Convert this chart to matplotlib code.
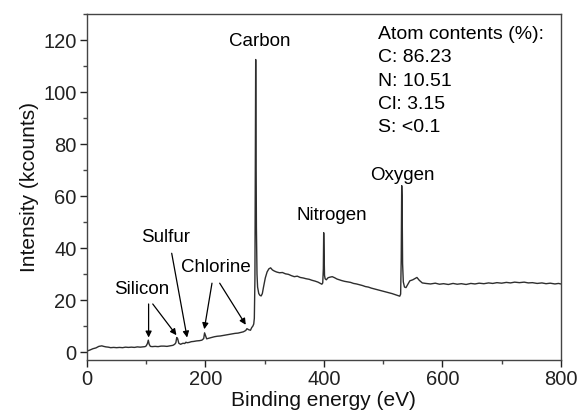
import matplotlib
matplotlib.use("Agg")
import matplotlib.pyplot as plt
from matplotlib.ticker import MultipleLocator

plt.rcParams['font.family'] = ['Liberation Sans', 'DejaVu Sans']

# Spectrum, split into regions (energy in eV, intensity in kcounts)
energy_low = [0, 5, 10, 15, 20, 25, 28, 32, 36, 40, 45, 50, 55, 60, 65, 70, 75, 80, 85, 90,
              95, 98, 100]
intensity_low = [0.4, 0.8, 1.3, 1.6, 2.2, 2.4, 2.2, 2.0, 1.9, 1.7, 1.8, 1.7, 1.8, 1.7, 1.9,
                 1.8, 1.9, 1.8, 2.0, 1.9, 2.0, 2.1, 2.4]

energy_si_cl = [102, 103.5, 105, 107, 110, 115, 120, 125, 130, 135, 140, 145, 148, 150, 151.5,
                153, 155, 158, 162, 165, 167, 169, 172, 176, 180, 185, 190, 194, 197, 198.5,
                200, 202, 205, 210, 215, 220, 225, 230, 235, 240, 245, 250, 255, 260, 264,
                268, 270, 273, 276, 278, 280]
intensity_si_cl = [3.3, 4.6, 3.0, 2.2, 2.1, 2.2, 2.1, 2.3, 2.3, 2.2, 2.4, 2.6, 3.0, 3.6, 5.6,
                   5.2, 3.4, 3.0, 3.4, 3.3, 3.8, 3.6, 3.7, 4.0, 4.1, 4.3, 4.4, 4.6, 5.2, 7.4,
                   6.4, 5.1, 5.3, 5.6, 5.9, 6.1, 6.2, 6.4, 6.6, 6.8, 7.0, 7.2, 7.3, 7.6, 7.8,
                   8.3, 9.0, 8.6, 8.4, 9.4, 10.0]

energy_carbon = [281.5, 282.5, 283.5, 284.2, 284.8, 285.4, 286, 287, 288, 290, 292, 294, 296,
                 298, 301, 304, 307, 310, 313, 316, 320, 325, 330, 335, 340, 345, 350, 355,
                 360, 365, 370, 375, 380, 385, 390, 394, 396.5]
intensity_carbon = [10.8, 13.0, 28.0, 80.0, 112.5, 82.0, 48.0, 30.0, 25.0, 22.5, 21.8, 21.6,
                    22.5, 25.0, 28.5, 30.8, 32.0, 32.4, 31.6, 31.2, 30.8, 30.5, 30.6, 30.1,
                    29.9, 29.4, 29.0, 29.2, 28.7, 28.5, 28.2, 28.0, 27.6, 27.3, 26.9, 26.4,
                    26.1]

energy_nitrogen = [398, 399, 399.6, 400.4, 401, 402, 404, 407, 410, 414, 418, 422, 426, 430,
                   435, 440, 445, 450, 455, 460, 465, 470, 475, 480, 485, 490, 495, 500, 505,
                   510, 515, 520, 525, 528]
intensity_nitrogen = [26.6, 32.0, 45.9, 36.0, 29.5, 28.2, 27.8, 28.6, 28.8, 29.0, 28.6, 28.1,
                      27.8, 27.5, 27.2, 27.0, 26.8, 26.4, 26.2, 25.9, 25.6, 25.2, 25.0, 24.6,
                      24.3, 24.0, 23.7, 23.4, 23.1, 22.8, 22.5, 22.1, 21.7, 21.5]

energy_oxygen = [529.5, 530.5, 531.3, 532, 532.8, 534, 536, 538.5, 541, 545, 550, 554, 557,
                 561, 566, 572, 580, 588, 595, 602, 610, 618, 625, 632, 640, 648, 655, 662,
                 670, 678, 685, 692, 700, 708, 715, 722, 730, 738, 745, 752, 760, 768, 775,
                 782, 790, 796, 800]
intensity_oxygen = [22.3, 36.0, 64.0, 58.0, 34.0, 27.0, 25.0, 24.8, 25.8, 27.4, 27.8, 28.3,
                    28.7, 27.6, 26.6, 26.4, 26.2, 26.5, 26.1, 26.3, 26.0, 26.4, 26.1, 26.3,
                    26.0, 26.4, 26.2, 26.5, 26.3, 26.6, 26.4, 26.7, 26.5, 26.8, 26.6, 26.9,
                    26.7, 26.9, 26.6, 26.7, 26.4, 26.6, 26.3, 26.5, 26.2, 26.4, 26.2]

x_ticks = [0, 200, 400, 600, 800]
y_ticks = [0, 20, 40, 60, 80, 100, 120]
contents_lines = ["Atom contents (%):", "C: 86.23", "N: 10.51", "Cl: 3.15", "S: <0.1"]

energy = energy_low + energy_si_cl + energy_carbon + energy_nitrogen + energy_oxygen
intensity = (intensity_low + intensity_si_cl + intensity_carbon + intensity_nitrogen
             + intensity_oxygen)

fig = plt.figure(figsize=(5.8, 4.18), dpi=100)
ax = fig.add_axes([0.15, 0.139, 0.817, 0.8275])
ax.plot(energy, intensity, color='#2e2e2e', lw=1.0)

ax.set_xlim(0, 800)
ax.set_ylim(-3, 130)
ax.set_xticks(x_ticks)
ax.set_yticks(y_ticks)
ax.xaxis.set_minor_locator(MultipleLocator(100))
ax.yaxis.set_minor_locator(MultipleLocator(10))
ax.tick_params(which='major', direction='out', length=5, width=1, labelsize=14.5,
               colors='#222222', top=False, right=False, pad=2.5)
ax.tick_params(which='minor', direction='out', length=3, width=1, top=False, right=False,
               colors='#444444')
for s in ax.spines.values():
    s.set_color('#444444')
    s.set_linewidth(1.0)

ax.set_xlabel("Binding energy (eV)", fontsize=15, color='#111111', labelpad=1)
ax.set_ylabel("Intensity (kcounts)", fontsize=15, color='#111111', labelpad=3)

fs = 13.5
ax.text(292, 119.5, "Carbon", ha='center', va='center', fontsize=fs)
ax.text(413, 52.4, "Nitrogen", ha='center', va='center', fontsize=fs)
ax.text(533, 68, "Oxygen", ha='center', va='center', fontsize=fs)
ax.text(93, 24, "Silicon", ha='center', va='center', fontsize=fs)
ax.text(133, 44, "Sulfur", ha='center', va='center', fontsize=fs)
ax.text(218, 32.5, "Chlorine", ha='center', va='center', fontsize=fs)

arrow = dict(arrowstyle='-|>', color='black', lw=0.9, mutation_scale=9,
             shrinkA=0, shrinkB=0)
ax.annotate("", xy=(104, 5.6), xytext=(104, 18.5), arrowprops=arrow)
ax.annotate("", xy=(151, 6.5), xytext=(111, 18.5), arrowprops=arrow)
ax.annotate("", xy=(169, 5.6), xytext=(143, 38), arrowprops=arrow)
ax.annotate("", xy=(198, 8.8), xytext=(211, 26.5), arrowprops=arrow)
ax.annotate("", xy=(268, 10.5), xytext=(224, 26.5), arrowprops=arrow)

for i, line in enumerate(contents_lines):
    ax.text(491, 122 - i * 8.9, line, ha='left', va='center', fontsize=14)

fig.savefig("out.png", dpi=100)
